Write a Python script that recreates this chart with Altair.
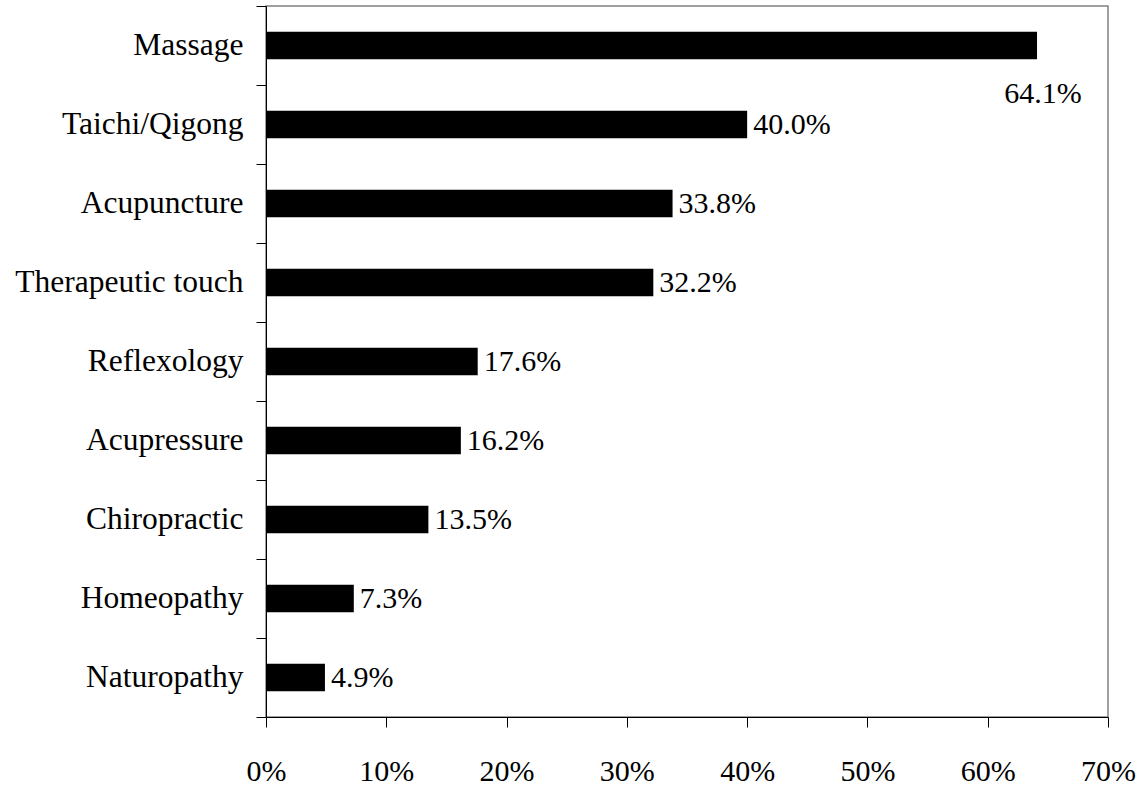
import altair as alt
import pandas as pd

categories = ["Massage", "Taichi/Qigong", "Acupuncture", "Therapeutic touch",
              "Reflexology", "Acupressure", "Chiropractic", "Homeopathy", "Naturopathy"]
values = [0.641, 0.400, 0.338, 0.322, 0.176, 0.162, 0.135, 0.073, 0.049]
x_ticks = [0, 0.1, 0.2, 0.3, 0.4, 0.5, 0.6, 0.7]

df = pd.DataFrame({"therapy": categories, "share": values})

FONT = "Liberation Serif"
FS = 30

y_enc = alt.Y("therapy:N", sort=categories, title=None,
              scale=alt.Scale(paddingInner=0, paddingOuter=0),
              axis=alt.Axis(tickBand="extent", tickSize=10, labelPadding=13,
                            domainColor="black", tickColor="black",
                            labelFont=FONT, labelFontSize=31.5, labelColor="black",
                            labelLimit=400))
x_enc = alt.X("share:Q", title=None,
              scale=alt.Scale(domain=[0, 0.7], nice=False),
              axis=alt.Axis(values=x_ticks, format=".0%", tickSize=10, labelPadding=29,
                            labelFlush=False, labelOverlap=False,
                            domainColor="black", tickColor="black", grid=False,
                            labelFont=FONT, labelFontSize=FS, labelColor="black"))

bars = alt.Chart(df).mark_bar(color="black", height={"band": 0.35}).encode(x=x_enc, y=y_enc)

labels = alt.Chart(df).transform_filter(alt.datum.therapy != "Massage").mark_text(
    align="left", baseline="middle", dx=6, font=FONT, fontSize=FS, color="black"
).encode(x="share:Q", y=alt.Y("therapy:N", sort=categories),
         text=alt.Text("share:Q", format=".1%"))

top_label = alt.Chart(df).transform_filter(alt.datum.therapy == "Massage").mark_text(
    align="center", baseline="middle", dx=6, dy=48, font=FONT, fontSize=FS, color="black"
).encode(x="share:Q", y=alt.Y("therapy:N", sort=categories),
         text=alt.Text("share:Q", format=".1%"))

chart = alt.layer(bars, labels, top_label).properties(
    width=842, height=711,
    padding={"left": 266, "top": 6, "right": 37, "bottom": 69},
    autosize=alt.AutoSizeParams(type="none"),
    background="white",
).configure_view(stroke="#808080", strokeWidth=1.5)

chart.save("out.html", embed_options={"renderer": "svg", "actions": False})
